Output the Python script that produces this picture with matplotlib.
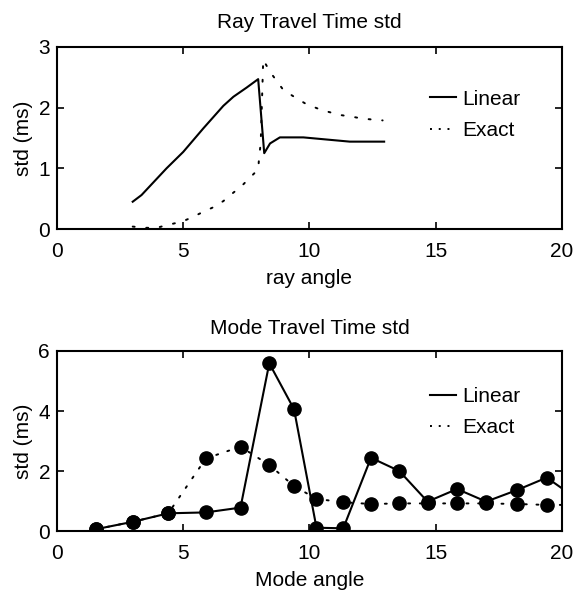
import numpy as np
import matplotlib.pyplot as plt
from matplotlib.lines import Line2D

# ray travel time std
ray_lin_x = [3.0, 3.35, 4.34, 5.0, 5.8, 6.59, 6.99, 7.51, 7.97, 8.21, 8.44, 8.83, 9.76, 11.6, 12.96]
ray_lin_y = [0.45, 0.56, 1.0, 1.27, 1.66, 2.03, 2.18, 2.33, 2.47, 1.25, 1.41, 1.51, 1.51, 1.44, 1.44]
ray_ex_x = [3.0, 3.49, 3.95, 4.41, 4.94, 5.34, 5.73, 6.2, 6.59, 6.96, 7.32, 7.65, 7.97, 8.01, 8.07,
            8.17, 8.44, 8.97, 9.43, 9.83, 10.3, 10.76, 11.2, 11.7, 12.1, 12.6, 12.9]
ray_ex_y = [0.04, 0.02, 0.02, 0.07, 0.12, 0.19, 0.27, 0.36, 0.46, 0.59, 0.71, 0.85, 0.98, 1.19, 1.41,
            2.79, 2.59, 2.29, 2.17, 2.07, 1.99, 1.93, 1.88, 1.85, 1.82, 1.80, 1.79]

# mode travel time std
mode_x = [1.54, 3.02, 4.41, 5.9, 7.27, 8.41, 9.39, 10.28, 11.34, 12.44, 13.56, 14.68, 15.85, 17.0, 18.24, 19.4, 20.55]
mode_lin = [0.06, 0.31, 0.59, 0.62, 0.78, 5.59, 4.06, 0.11, 0.09, 2.44, 2.0, 0.98, 1.4, 0.98, 1.37, 1.78, 1.1]
mode_ex = [0.06, 0.31, 0.59, 2.42, 2.81, 2.2, 1.5, 1.07, 0.96, 0.9, 0.92, 0.92, 0.92, 0.92, 0.9, 0.87, 0.87]

labels = ['Linear', 'Exact']

plt.rcParams['font.family'] = ['Liberation Sans', 'DejaVu Sans']
plt.rcParams['font.size'] = 15

fig = plt.figure(figsize=(5.79, 5.91), dpi=100)
ax1 = fig.add_axes([0.0984, 0.6125, 0.872, 0.308])
ax2 = fig.add_axes([0.0984, 0.1015, 0.872, 0.3046])

for ax in (ax1, ax2):
    ax.tick_params(direction='in', top=True, right=True, length=5, width=1.2, labelsize=15)
    ax.tick_params(axis='x', pad=9)
    ax.tick_params(axis='y', pad=5)
    for s in ax.spines.values():
        s.set_linewidth(1.5)
    ax.set_xlim(0, 20)
    ax.set_xticks([0, 5, 10, 15, 20])

# legend handles: short solid line, three dots
hs = [Line2D([], [], color='k', lw=1.5),
      Line2D([], [], color='k', ls=(0, (1, 3.5)), lw=1.4)]

ax1.plot(ray_lin_x, ray_lin_y, 'k-', lw=1.5)
ax1.plot(ray_ex_x, ray_ex_y, color='k', ls=(0, (1, 6)), lw=1.4, dash_capstyle='round')
ax1.set_ylim(0, 3)
ax1.set_yticks([0, 1, 2, 3])
ax1.set_title('Ray Travel Time std', fontsize=15, pad=14)
ax1.set_xlabel('ray angle', fontsize=15, labelpad=6)
ax1.set_ylabel('std (ms)', fontsize=15, labelpad=4)
ax1.legend(hs, labels, loc='upper left', bbox_to_anchor=(0.739, 0.765), frameon=False, borderpad=0,
           borderaxespad=0, handlelength=1.25, handletextpad=0.3, labelspacing=0.6, fontsize=15)

ax2.plot(mode_x, mode_lin, 'k-', lw=1.5, marker='o', ms=9.5)
ax2.plot(mode_x, mode_ex, color='k', ls=(0, (1, 5)), lw=1.4, dash_capstyle='round',
         marker='o', ms=9.5)
ax2.set_ylim(0, 6)
ax2.set_yticks([0, 2, 4, 6])
ax2.set_title('Mode Travel Time std', fontsize=15, pad=12)
ax2.set_xlabel('Mode angle', fontsize=15, labelpad=6)
ax2.set_ylabel('std (ms)', fontsize=15, labelpad=4)
ax2.legend(hs, labels, loc='upper left', bbox_to_anchor=(0.739, 0.8), frameon=False,
           borderpad=0, borderaxespad=0, handlelength=1.25, handletextpad=0.3, labelspacing=0.6,
           fontsize=15)

fig.savefig('out.png', dpi=100)
